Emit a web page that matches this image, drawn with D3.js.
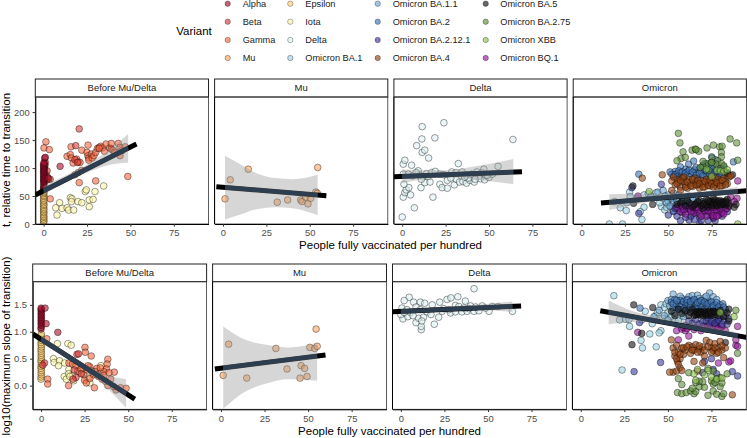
<!DOCTYPE html>
<html>
<head>
<meta charset="utf-8">
<script src="https://cdn.jsdelivr.net/npm/d3@7"></script>
<style>
body { margin: 0; background: #fff; }
text { font-family: "Liberation Sans", Arial, sans-serif; }
</style>
</head>
<body>
<svg id="chart" width="747" height="438"></svg>
<script>
const variantNames = ["Alpha","Beta","Gamma","Mu","Epsilon","Iota","Delta","Omicron BA.1","Omicron BA.1.1","Omicron BA.2","Omicron BA.2.12.1","Omicron BA.4","Omicron BA.5","Omicron BA.2.75","Omicron XBB","Omicron BQ.1"];
const variantColors = ["#a50f2d","#d73c3c","#f4683f","#fba35c","#fdcf70","#fdf6a8","#dcf0f2","#9fd3e6","#6fa8d6","#3f74b8","#3a3a9c","#96420f","#141414","#5f8f3a","#8fc44f","#96189c"];
const panelNames = ["Before Mu/Delta","Mu","Delta","Omicron"];
const xTicks = [0,25,50,75];
const tTicks = [0,50,100,150,200];
const slopeTicks = [0,0.5,1,1.5];

// top row: t, relative time to transition
const alphaT = [[0,62],[0.2,65],[0,68],[0.3,71],[0,74],[0.2,76],[0,78],[0.3,80],[0,82],[0.2,84],[0,86],[0.4,88],[0,90],[0.2,92],[0,94],[0.2,96],[0,98],[0.3,100],[0.2,102],[0,104],[0,106],[0.4,108],[0.2,110],[0.6,118],[1,119],[9.5,103],[2.5,82]];
const betaT = [[20.5,170],[18.5,140],[2,85],[3,80],[1,90],[0.8,105],[18,115],[19.5,110],[1.5,78],[2,95]];
const gammaT = [[1.3,147],[0.2,136],[3.3,133],[3.8,45],[3.8,80],[15.8,138],[22,132],[25.6,141],[13.5,121],[15.4,124],[16,118],[17,109],[19,116],[20,111],[21,110],[25,128],[25.5,122],[26,118],[26,114],[27.5,125],[28,118],[29,122],[30,128],[31,135],[32,137],[33,139],[34,136],[35,130],[36,143],[38,136],[39,144],[39,134],[40,132],[41,128],[43,144],[44,137],[45,131],[44,122],[47,138],[48.5,85],[30,77],[20.5,74],[20,92],[18,88],[22,96],[32,135],[1,110],[0.5,100]];
const muT = [[1.2,45],[4.2,79],[14.6,98],[31.3,39],[37.3,43],[44.8,43],[45.6,40],[47.7,48],[49,36],[50.6,46],[53.5,57],[54.6,101],[54.4,55]];
const epsilonT = [[0,1],[0,4],[0.2,6],[0,9],[0.2,12],[0,14],[0,17],[0.2,20],[0,22],[0,25],[0.2,27],[0,30],[0,33],[0.2,35],[0,38],[0,41],[0.2,43],[0,46],[0.2,49],[0,51],[0,54],[0.2,56],[0,58],[0.2,61],[0,64]];
const iotaT = [[7.7,16],[9.2,38],[7,29],[10.6,28],[13.5,29],[14.4,25],[15.4,47],[16.3,45],[16,40],[17.3,25],[19.8,40],[22,38],[24,58],[24.6,61],[26.3,43],[28.5,44],[26.3,31],[29.6,58],[34.6,68]];
const deltaT = [[0,12.5],[7,29],[0.6,48],[1.5,56],[2.3,61],[3.8,65],[1,71],[4.8,52],[17.7,48],[10.8,65],[0.6,89],[3.5,89],[0.6,107],[1.5,114],[5.4,105],[9.2,95],[8.3,140],[11.5,128],[13,132],[15.2,118],[11.3,152],[11.5,174],[24,181],[18.8,154],[32.3,108],[63.8,151],[55.2,103],[47,98],[10.2,87],[12,84],[14,90],[17,92],[19,94],[21.7,89],[13,74],[11,80],[16,75],[21.7,71],[23,65],[26,64],[30,70],[26,78],[28.5,93],[31,92],[34.5,93],[31,80],[33,75],[35,76],[37,73],[37,87],[39,78],[41.5,75],[44,85],[45,81],[47.5,79],[50,83],[52,89],[48,87],[40,89],[43,93],[46,91],[49,87],[38,82],[36,84],[6,86],[8,92],[15,85],[24,88],[28,82],[42,80]];
const ba1T = [[16,0],[23.6,0],[22.3,29],[25.8,24],[19,40],[34.8,8],[36,30],[33.8,22],[27.7,57],[28,49],[26,38],[36,52],[38.5,54],[43,56],[46,31],[48,25],[50,34],[52,28],[47,45],[50,40],[54,32],[56,24],[32,46],[40,48],[45,38],[49,30],[51,45],[53,24],[55,36],[57,30],[59,22],[60,38]];
const ba11T = [[40,50],[44,57],[47,60],[50,52],[52,46],[53,38],[55,42],[57,34],[58,47],[60,30],[61,41],[62,50],[63,36],[65,28],[66,44],[68,32],[70,40],[55,28],[58,25],[48,50],[53,55],[63,24],[72,30],[49,38],[51,32],[54,49],[56,52],[59,42],[64,46],[67,38]];
const ba2T = [[33,89],[51,93],[54,94],[57,102],[61.7,107],[64.6,112.5],[75,120],[87.5,111],[53,86],[55,90],[57,92],[59,88],[61,94],[63,90],[65,97],[66,92],[68,99],[69,88],[71,95],[72,90],[74,98],[75,92],[77,96],[78,88],[80,92],[81,98],[83,90],[84,86],[70,102],[73,105],[76,108],[58,84],[62,85],[67,83],[72,85],[79,84],[82,102],[60,98],[56,86],[66,101],[52,89],[54,88],[56,95],[58,93],[60,91],[62,96],[64,93],[66,87],[68,91],[70,86],[72,95],[74,88],[76,89],[78,94],[79,100],[81,87],[84,92],[75,103],[71,108],[77,115]];
const ba2121T = [[46,71],[29,65],[33,19],[57,6],[62,7],[68,0],[50,16],[53,22],[55,14],[58,20],[60,12],[62,26],[64,18],[66,24],[68,12],[70,28],[72,16],[74,22],[76,10],[78,26],[80,18],[82,30],[56,28],[60,32],[65,8],[73,6],[84,22],[54,28],[59,26],[63,14],[67,20],[69,6],[71,22],[75,15],[77,6],[79,24],[81,14]];
const ba4T = [[35,82],[46.5,88],[52,77],[54,70],[55,80],[56,74],[57,66],[58,82],[59,76],[60,70],[61,64],[62,79],[63,73],[64,67],[65,82],[66,76],[67,70],[68,64],[69,78],[70,72],[71,66],[72,80],[73,74],[74,68],[75,83],[76,76],[77,70],[78,66],[79,80],[80,74],[81,68],[82,82],[83,76],[85,84],[52,60],[57,60],[84,72],[86,86],[53,84],[55,72],[57,78],[59,84],[60,66],[61,75],[63,68],[64,80],[66,70],[67,78],[68,72],[70,66],[71,76],[73,69],[74,78],[75,72],[76,66],[77,82],[78,74],[80,68],[81,78],[83,70]];
const ba5T = [[29.6,68],[30,37],[41,35],[55,35],[58,40],[60,32],[62,38],[64,30],[66,36],[68,42],[69,33],[71,38],[72,44],[73,30],[74,36],[75,41],[76,34],[77,39],[78,32],[79,37],[80,42],[81,35],[82,40],[83,34],[84,44],[85,32],[88,30],[89,35],[87,88],[84,90],[76,46],[70,28],[72,34],[74,40],[75,33],[76,38],[77,43],[78,36],[79,41],[80,34],[81,39],[82,36],[83,41],[84,38],[70,36],[73,42],[67,40],[65,34],[61,42],[57,38]];
const ba275T = [[55.8,162],[56.7,145],[85.6,152],[89.4,145],[58.5,129],[57.3,117],[55,113],[59.8,119],[63.7,132],[65.6,134],[67.5,130],[72.3,136],[76,141],[79.6,138],[81,139],[80.6,128],[75.2,118],[80.6,120],[78.5,113],[72.3,108],[69.8,104],[74.8,110],[68.5,101],[77.7,107],[80.6,108],[90,114],[73.3,96],[80,99],[66,133],[75,110],[82,104],[70,112]];
const xbbT = [[75,85],[78,96],[80,95],[82,94],[39,58],[72,98],[84,97],[90,0]];
const bq1T = [[32.5,50],[90,77],[89.6,46],[55,30],[57,22],[58,32],[60,18],[62,28],[64,34],[65,20],[67,26],[68,18],[70,32],[71,24],[72,14],[74,28],[75,20],[76,12],[77,30],[78,22],[79,16],[80,28],[81,20],[83,26],[85,36],[86,48],[88,40],[76,15],[59,26],[63,22],[66,30],[69,14],[73,24],[75,30],[78,14],[82,18],[84,28]];

// bottom row: log10(maximum slope of transition)
const alphaS = [[0,1.05],[0,1.08],[0.2,1.12],[0,1.15],[0.2,1.18],[0,1.21],[0.2,1.24],[0,1.27],[0.2,1.3],[0,1.33],[0.2,1.36],[0,1.39],[0.2,1.42],[0,1.44],[2.3,1.44],[2.9,1.15],[9.6,0.99]];
const betaS = [[20.6,0.58],[19,0.29],[20,0.15],[18.3,0.12],[2,0.42],[21.5,0.59],[23,0.22],[1,0.38]];
const gammaS = [[3.3,0.87],[3.8,0.12],[3.8,0.03],[15.8,0],[25.2,0.71],[25.4,0.62],[28.8,0.55],[38.3,0.49],[37.9,0.4],[37.5,0.31],[42,0.25],[38.3,0],[43,-0.08],[45.6,-0.04],[48.8,-0.05],[41.7,-0.02],[30.6,-0.04],[32,0.32],[34,0.23],[36,0.26],[28,0.35],[24.5,0.2],[26.5,0.29],[16,0.42],[18,0.4],[20,0.37],[21,0.27],[23,0.32],[25,0.1],[26,0.05],[30,0.2],[31,0.26],[33,0.17],[35,0.12],[37,0.08],[39,0.24],[27,0.37],[29,0.27],[32,0.2],[34,0.33],[36,0.19],[28,0.13],[40,0.12]];
const muS = [[1.3,0.19],[4.4,0.77],[14.8,0.14],[31.5,0.69],[37.9,0.31],[45.4,0.14],[46,0.37],[48,0.32],[49.4,0.17],[51,0.71],[53.8,0.69],[55.2,0.73],[54.6,1.05]];
const epsilonS = [[0,0.12],[0,0.16],[0.2,0.2],[0,0.24],[0.2,0.28],[0,0.32],[0,0.36],[0.2,0.4],[0,0.44],[0,0.48],[0.2,0.52],[0,0.56],[0.2,0.6],[0,0.64],[0,0.68],[0.2,0.72],[0,0.76],[0,0.8],[0.2,0.84],[0,0.88],[0,0.92],[0.2,0.96]];
const iotaS = [[9.4,0.78],[15.4,0.78],[17.3,0.75],[7.1,0.5],[7.5,0.43],[10.6,0.46],[10,0.37],[13.5,0.42],[13.3,0.17],[14.5,0.12],[16,0.3],[15.8,0.22],[18,0.18],[18.7,0.09],[22,0.26],[23.3,0.23],[27,0.14],[28,0.05],[34.4,0.37],[16.5,0.17],[24,0.33]];
const deltaS = [[42,1.8],[64,1.38],[19.2,1.14],[11.7,1.04],[11.7,1.1],[8.7,1.17],[1.2,1.24],[4.8,1.64],[1.9,1.58],[7.3,1.55],[11.2,1.55],[13.7,1.53],[18,1.5],[22.3,1.55],[26.5,1.6],[28.7,1.63],[32.7,1.65],[37,1.57],[31.3,1.49],[40,1.48],[46.7,1.48],[50.6,1.38],[21.7,1.27],[10.2,1.25],[13,1.27],[4,1.28],[0,1.32],[0.6,1.44],[3.5,1.41],[8.7,1.46],[11.2,1.41],[15,1.37],[17.3,1.32],[23.7,1.38],[28.5,1.35],[31.3,1.37],[35,1.37],[38,1.38],[42,1.38],[44.8,1.39],[48.6,1.44],[52.5,1.47],[55.8,1.47],[24.6,1.43],[27.5,1.41],[33.3,1.47],[36.2,1.44],[39,1.43],[42.9,1.46],[5.5,1.36],[7,1.3],[12,1.2],[2,1.36]];
const ba1S = [[19,1.67],[23.7,0.29],[43.3,0.72],[35.4,0.7],[34.6,0.84],[28,1.1],[22.3,1.22],[25.8,1.23],[27.7,1.23],[39.6,0.96],[37,1.38],[46,1.02],[45,0.98],[43,1.3],[46,1.5],[48,1.45],[50,1.35],[52,1.28],[35,1.22],[41,1.15],[47,1.25],[44,1.36],[49,1.52],[54,1.22],[56,1.2],[58,1.3]];
const ba11S = [[50,1.58],[52,1.6],[53,1.7],[55,1.45],[56,1.55],[58,1.62],[60,1.5],[62,1.65],[64,1.67],[65,1.55],[67,1.68],[69,1.45],[71,1.63],[74,1.72],[76,1.65],[48,1.3],[50,1.22],[42,1.28],[45,1.4],[54,1.35],[73,1.58],[66,1.48],[59,1.28],[51,1.48],[57,1.66],[61,1.58],[63,1.44],[68,1.62],[70,1.58],[72,1.66],[78,1.6]];
const ba2S = [[34,1.44],[52,1.55],[53,1.45],[54,1.6],[55,1.5],[56,1.42],[57,1.58],[58,1.5],[59,1.56],[60,1.46],[61,1.54],[62,1.42],[63,1.5],[64,1.58],[65,1.45],[66,1.52],[67,1.42],[68,1.56],[69,1.48],[70,1.52],[71,1.42],[72,1.5],[73,1.44],[74,1.54],[75,1.46],[76,1.4],[77,1.5],[78,1.44],[80,1.5],[81,1.4],[81.5,1.52],[83,1.42],[68,1.38],[60,1.38],[53,1.52],[55,1.58],[57,1.46],[59,1.42],[61,1.6],[63,1.56],[65,1.6],[66,1.44],[67,1.54],[69,1.58],[71,1.55],[73,1.52],[75,1.56],[76,1.48],[78,1.54],[79,1.46],[82,1.46]];
const ba2121S = [[30.6,0.26],[45.8,0.43],[33.7,1.17],[68,1.15],[70,1.18],[72,1.2],[74,1.15],[76,1.22],[78,1.18],[80,1.26],[82,1.2],[83,1.3],[84,1.14],[85,1.24],[60,1.12],[64,1.16],[71,0.45],[76,0.3],[78,0.22],[87,0.26],[90,0.18],[75,0.5],[70,0.24],[62,1.2],[66,1.22],[73,1.26],[75,1.2],[77,1.16],[79,1.22],[81,1.14]];
const ba4S = [[52,0.85],[53,0.7],[54,0.55],[55,0.75],[55.5,0.45],[56,0.62],[57,0.5],[58,0.7],[59,0.58],[60,0.66],[62,0.75],[63,0.6],[64,0.72],[65,0.66],[66,0.76],[68,0.68],[69,0.62],[70,0.72],[71,0.55],[72,0.84],[74,0.8],[75,0.7],[76,0.65],[77,0.78],[78,0.6],[79,0.7],[80,0.82],[81,0.66],[82,0.52],[83,0.7],[53,0.25],[55,0.27],[57,0.33],[56,0.4],[58,0.28],[67,0.27],[70,0.42],[87,-0.17],[51,0.25],[65,0.45],[54,0.62],[55,0.5],[57,0.58],[59,0.7],[61,0.72],[64,0.66],[67,0.62],[68,0.74],[71,0.66],[73,0.72],[75,0.62],[77,0.7],[79,0.62],[81,0.74]];
const ba5S = [[30.4,1.5],[41.3,1.45],[29.4,0.76],[35,0.97],[85,1.42],[52,1.38],[54,1.3],[56,1.42],[58,1.34],[60,1.4],[62,1.3],[63,1.36],[64,1.42],[65,1.3],[66,1.37],[67,1.32],[68,1.38],[69,1.3],[70,1.36],[71,1.33],[72,1.3],[73,1.37],[74,1.33],[75,1.3],[76,1.38],[77,1.32],[78,1.36],[79,1.3],[80,1.4],[82,1.28],[84,1.35],[83,0.8],[85,1.2],[66,1.32],[67,1.36],[68,1.33],[69,1.36],[70,1.31],[71,1.38],[72,1.34],[73,1.32],[74,1.38],[75,1.35],[77,1.37]];
const ba275S = [[55.5,-0.13],[58,-0.15],[60.5,-0.13],[63,-0.1],[65,-0.15],[66,-0.11],[64,-0.05],[68,-0.02],[71,-0.03],[73,-0.18],[76,-0.1],[78,-0.16],[81,-0.2],[82,-0.15],[70,0.07],[68,0.08],[66,0.06],[76,0.03],[75,0.09],[77,0.06],[80,-0.02],[81,0.05],[58,0.02],[56,0.13],[73,0.32],[76,0.27],[80,0.15],[90,0.6],[89,1.4],[62,0.24],[78,0.13],[84,0.22]];
const xbbS = [[65,0.22],[66,0.1],[73,0.28],[75,0.16],[78,0.12],[81,0.14],[67,0.3],[71,0.2],[88,1.28],[80,1.36]];
const bq1S = [[32.7,0.99],[56,0.85],[62,0.92],[55,1.02],[58,1.05],[60,1.02],[63,1.1],[65,1.04],[67,1.08],[69,1.02],[70,1.1],[72,1.05],[74,1.08],[76,1.04],[78,1.1],[80,1.05],[83,1.02],[89,0.75],[89,0.85],[90,1.1],[86,0.46],[85,0.44],[79,0.42],[90,0.73],[59,1.08],[61,1.06],[66,1.08],[71,1.1],[73,1.12],[75,1.06],[77,1.12],[79,1.08],[81,1.1]];

// same order as variantNames
const seriesT = [alphaT,betaT,gammaT,muT,epsilonT,iotaT,deltaT,ba1T,ba11T,ba2T,ba2121T,ba4T,ba5T,ba275T,xbbT,bq1T];
const seriesS = [alphaS,betaS,gammaS,muS,epsilonS,iotaS,deltaS,ba1S,ba11S,ba2S,ba2121S,ba4S,ba5S,ba275S,xbbS,bq1S];
const drawOrderT = [6,5,2,4,1,0,3,7,8,9,10,15,12,11,13,14];
const drawOrderS = [6,5,2,4,1,0,3,7,8,9,15,10,12,11,13,14];

// per panel: which variants, fit line ends [x,y], ribbon rows [x,lower,upper]
const panelVariants = [[4,5,2,1,0],[3],[6],[7,8,9,10,11,12,13,14,15]];
const linesT = [[[-4.8,52],[53.5,143]],[[-3.8,66.7],[59.6,50.6]],[[-4.8,84.5],[69,93.5]],[[11.2,37.5],[95,59.5]]];
const ribbonsT = [
  [[0,52,68],[12,74,86],[25,92,106],[37,105,131],[48.7,110,161]],
  [[1.2,8,122],[10,17,107],[20,27,90],[30,30,82],[40,28,80],[54.6,16,88]],
  [[0,73,98],[12,80,96],[25,83,96],[40,80,102],[64,71,116]],
  [[16,25,53],[30,34,54],[50,45,55],[70,50,58],[90,52,66]]
];
const linesS = [[[-4.8,0.96],[53.8,-0.25]],[[-3.5,0.31],[60,0.57]],[[-4.6,1.37],[69,1.48]],[[11.2,1.39],[95.8,0.89]]];
const ribbonsS = [
  [[0,0.79,0.93],[12,0.56,0.66],[25,0.29,0.4],[37,-0.02,0.2],[48.8,-0.41,0.12]],
  [[1.3,-0.43,1.1],[14,-0.11,0.85],[26,0.04,0.76],[39,0.12,0.71],[55.2,0.09,0.79]],
  [[0,1.33,1.42],[20,1.38,1.44],[40,1.41,1.49],[64,1.37,1.56]],
  [[16,1.14,1.58],[30,1.18,1.38],[50,1.19,1.26],[70,1.07,1.14],[90,0.87,0.98]]
];

const svg = d3.select("#chart");

// legend
const legendKeyX = [227.7,290.3,377.7,485.7];
const legendLabelX = [242.7,305.3,392.7,500.3];
const legendRowY = [3.7,21.7,40,58];
svg.append("text").attr("x",194).attr("y",35).attr("text-anchor","middle")
    .attr("font-size",11.5).attr("fill","#000").text("Variant");
variantNames.forEach(function(name,i){
    var col = Math.floor(i/4), row = i%4;
    svg.append("circle")
        .attr("cx",legendKeyX[col]).attr("cy",legendRowY[row]).attr("r",2.7)
        .attr("fill",variantColors[i]).attr("fill-opacity",0.65)
        .attr("stroke","#000").attr("stroke-opacity",0.5).attr("stroke-width",0.6);
    svg.append("text")
        .attr("x",legendLabelX[col]).attr("y",legendRowY[row]+3.2)
        .attr("font-size",9.2).attr("fill","#1a1a1a").text(name);
});

function drawRow(cfg){
    cfg.left.forEach(function(left,p){
        var g = svg.append("g");
        var clipId = "clip"+cfg.id+p;
        g.append("clipPath").attr("id",clipId).append("rect")
            .attr("x",left).attr("y",cfg.top).attr("width",cfg.width).attr("height",cfg.bottom-cfg.top);

        var x = d3.scaleLinear().domain([-4.8,95]).range([left,left+cfg.width]);
        var y = d3.scaleLinear().domain(cfg.domain).range([cfg.bottom,cfg.top]);

        // strip
        g.append("rect").attr("x",left).attr("y",cfg.stripTop)
            .attr("width",cfg.width).attr("height",cfg.top-cfg.stripTop)
            .attr("fill","#fff").attr("stroke","#222").attr("stroke-width",1);
        g.append("text").attr("x",left+cfg.width/2).attr("y",(cfg.stripTop+cfg.top)/2+3.4)
            .attr("text-anchor","middle").attr("font-size",9.5).attr("fill","#1a1a1a").text(panelNames[p]);

        var plot = g.append("g").attr("clip-path","url(#"+clipId+")");

        var order = cfg.order.filter(function(v){return panelVariants[p].indexOf(v)>=0;});
        order.forEach(function(v){
            plot.selectAll(null)
                .data(cfg.series[v])
                .enter()
                .append("circle")
                .attr("cx",function(d){return x(d[0]);})
                .attr("cy",function(d){return y(d[1]);})
                .attr("r",3.35)
                .attr("fill",variantColors[v]).attr("fill-opacity",0.6)
                .attr("stroke","#000").attr("stroke-opacity",0.55).attr("stroke-width",0.7);
        });

        var line = cfg.lines[p];
        var rib = cfg.ribbons[p];
        var fit = d3.scaleLinear().domain([line[0][0],line[1][0]]).range([line[0][1],line[1][1]]);
        plot.append("line")
            .attr("x1",x(line[0][0])).attr("y1",y(line[0][1]))
            .attr("x2",x(line[1][0])).attr("y2",y(line[1][1]))
            .attr("stroke","#000").attr("stroke-width",5);
        plot.append("path").datum(rib)
            .attr("d",d3.area()
                .x(function(d){return x(d[0]);})
                .y0(function(d){return y(d[1]);})
                .y1(function(d){return y(d[2]);})
                .curve(d3.curveMonotoneX))
            .attr("fill","#999").attr("fill-opacity",0.4);
        var x0 = rib[0][0], x1 = rib[rib.length-1][0];
        plot.append("line")
            .attr("x1",x(x0)).attr("y1",y(fit(x0)))
            .attr("x2",x(x1)).attr("y2",y(fit(x1)))
            .attr("stroke","#2c3e50").attr("stroke-width",4.2);

        // panel border and axes
        g.append("rect").attr("x",left).attr("y",cfg.top)
            .attr("width",cfg.width).attr("height",cfg.bottom-cfg.top)
            .attr("fill","none").attr("stroke","#333").attr("stroke-width",0.8);

        var xAxis = g.append("g").attr("transform","translate(0,"+cfg.bottom+")")
            .call(d3.axisBottom(x).tickValues(xTicks).tickSize(2.7).tickSizeOuter(0));
        xAxis.selectAll("text").attr("font-size",9.4).attr("fill","#4d4d4d").attr("font-family","Liberation Sans");
        xAxis.selectAll("line").attr("stroke","#333");
        xAxis.select(".domain").attr("stroke","#000");

        var yAxis = g.append("g").attr("transform","translate("+left+",0)");
        if(p==0){
            yAxis.call(d3.axisLeft(y).tickValues(cfg.ticks).tickFormat(cfg.format).tickSize(2.7).tickSizeOuter(0));
            yAxis.selectAll("text").attr("font-size",9.4).attr("fill","#4d4d4d").attr("font-family","Liberation Sans");
            yAxis.selectAll("line").attr("stroke","#333");
            yAxis.select(".domain").attr("stroke","#000");
        } else {
            yAxis.append("line").attr("y1",cfg.top).attr("y2",cfg.bottom).attr("stroke","#000");
        }
    });

    svg.append("text")
        .attr("x",cfg.xTitleX).attr("y",cfg.xTitleY).attr("text-anchor","middle")
        .attr("font-size",11.5).attr("fill","#000").text("People fully vaccinated per hundred");
    svg.append("text")
        .attr("transform","translate(6,"+cfg.yTitleMid+") rotate(-90)")
        .attr("dy","0.35em").attr("text-anchor","middle")
        .attr("font-size",11.5).attr("fill","#000").text(cfg.yTitle);
}

drawRow({
    id:"t", left:[35.3,214.6,393.9,573.2], width:173.2, stripTop:79, top:97, bottom:224,
    domain:[0,227], ticks:tTicks, format:d3.format("d"),
    series:seriesT, order:drawOrderT, lines:linesT, ribbons:ribbonsT,
    xTitleX:390.5, xTitleY:249, yTitleMid:160, yTitle:"t, relative time to transition"
});
drawRow({
    id:"s", left:[32.7,212.6,392.5,572.4], width:173.9, stripTop:264, top:281.7, bottom:409.3,
    domain:[-0.44,1.93], ticks:slopeTicks, format:d3.format(".1f"),
    series:seriesS, order:drawOrderS, lines:linesS, ribbons:ribbonsS,
    xTitleX:389.5, xTitleY:435, yTitleMid:346, yTitle:"log10(maximum slope of transition)"
});
</script>
</body>
</html>
